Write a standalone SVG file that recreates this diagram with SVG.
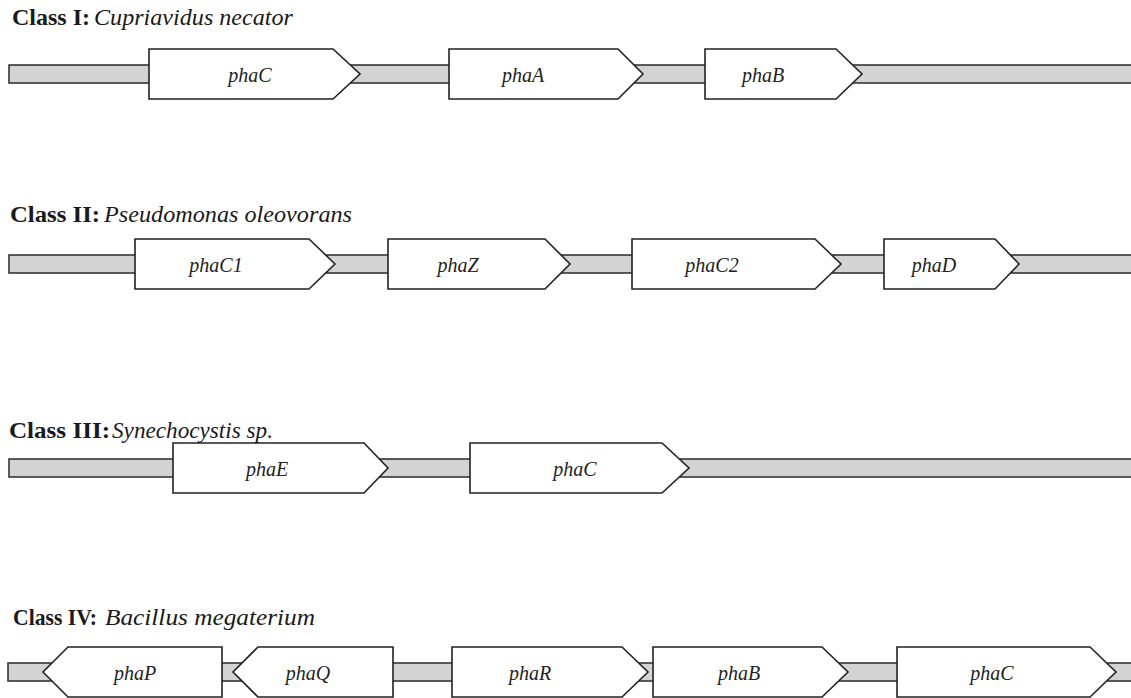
<svg xmlns="http://www.w3.org/2000/svg" width="1131" height="698" viewBox="0 0 1131 698">
<style>
.bg{fill:#ffffff}
.bar{fill:#d3d3d3;stroke:#2a2a2a;stroke-width:1.5}
.gene{fill:#ffffff;stroke:#222222;stroke-width:1.6;stroke-linejoin:miter}
.lbl{font-family:"Liberation Serif","Times New Roman",serif;font-style:italic;font-size:20px;fill:#222222;text-anchor:middle}
.cls{font-family:"Liberation Serif","Times New Roman",serif;font-weight:bold;font-size:23px;fill:#1a1a1a}
.sp{font-family:"Liberation Serif","Times New Roman",serif;font-style:italic;font-size:24px;fill:#1a1a1a}
</style>
<rect class="bg" x="0" y="0" width="1131" height="698"/>

<g id="connectors">
<rect id="bar1" class="bar" x="9" y="65" width="1130" height="18"/>
<rect id="bar2" class="bar" x="9" y="255" width="1130" height="18"/>
<rect id="bar3" class="bar" x="9" y="459" width="1130" height="18"/>
<rect id="bar4" class="bar" x="8" y="663" width="1130" height="18"/>
</g>

<!-- Class I -->
<g id="title1">
<text class="cls" x="12" y="25" textLength="78" lengthAdjust="spacingAndGlyphs">Class I:</text>
<text class="sp" x="94" y="25" textLength="199" lengthAdjust="spacingAndGlyphs">Cupriavidus necator</text>
</g>
<g id="r1-phaC"><path class="gene" d="M149,49 H333 L360,74 L333,99 H149 Z"/><text class="lbl" x="250" y="82">phaC</text></g>
<g id="r1-phaA"><path class="gene" d="M449,49 H618 L643,74 L618,99 H449 Z"/><text class="lbl" x="523" y="82">phaA</text></g>
<g id="r1-phaB"><path class="gene" d="M705,49 H836 L862,74 L836,99 H705 Z"/><text class="lbl" x="763" y="82">phaB</text></g>

<!-- Class II -->
<g id="title2">
<text class="cls" x="10" y="222" textLength="90" lengthAdjust="spacingAndGlyphs">Class II:</text>
<text class="sp" x="104" y="222" textLength="248" lengthAdjust="spacingAndGlyphs">Pseudomonas oleovorans</text>
</g>
<g id="r2-phaC1"><path class="gene" d="M135,239 H309 L335,264 L309,289 H135 Z"/><text class="lbl" x="216" y="272">phaC1</text></g>
<g id="r2-phaZ"><path class="gene" d="M388,239 H545 L570,264 L545,289 H388 Z"/><text class="lbl" x="458" y="272">phaZ</text></g>
<g id="r2-phaC2"><path class="gene" d="M632,239 H815 L841,264 L815,289 H632 Z"/><text class="lbl" x="712" y="272">phaC2</text></g>
<g id="r2-phaD"><path class="gene" d="M884,239 H995 L1019,264 L995,289 H884 Z"/><text class="lbl" x="934" y="272">phaD</text></g>

<!-- Class III -->
<g id="title3">
<text class="cls" x="9" y="438" textLength="101" lengthAdjust="spacingAndGlyphs">Class III:</text>
<text class="sp" x="112" y="438" textLength="161" lengthAdjust="spacingAndGlyphs">Synechocystis sp.</text>
</g>
<g id="r3-phaE"><path class="gene" d="M173,443 H364 L388,468 L364,493 H173 Z"/><text class="lbl" x="267" y="476">phaE</text></g>
<g id="r3-phaC"><path class="gene" d="M470,443 H662 L689,468 L662,493 H470 Z"/><text class="lbl" x="575" y="476">phaC</text></g>

<!-- Class IV -->
<g id="title4">
<text class="cls" x="13" y="625" textLength="84" lengthAdjust="spacingAndGlyphs">Class IV:</text>
<text class="sp" x="105" y="625" textLength="210" lengthAdjust="spacingAndGlyphs">Bacillus megaterium</text>
</g>
<g id="r4-phaP"><path class="gene" d="M222,647 H68 L43,672 L68,697 H222 Z"/><text class="lbl" x="135" y="680">phaP</text></g>
<g id="r4-phaQ"><path class="gene" d="M393,647 H258 L233,672 L258,697 H393 Z"/><text class="lbl" x="308" y="680">phaQ</text></g>
<g id="r4-phaR"><path class="gene" d="M452,647 H622 L648,672 L622,697 H452 Z"/><text class="lbl" x="530" y="680">phaR</text></g>
<g id="r4-phaB"><path class="gene" d="M653,647 H822 L848,672 L822,697 H653 Z"/><text class="lbl" x="739" y="680">phaB</text></g>
<g id="r4-phaC"><path class="gene" d="M897,647 H1090 L1116,672 L1090,697 H897 Z"/><text class="lbl" x="992" y="680">phaC</text></g>
</svg>
